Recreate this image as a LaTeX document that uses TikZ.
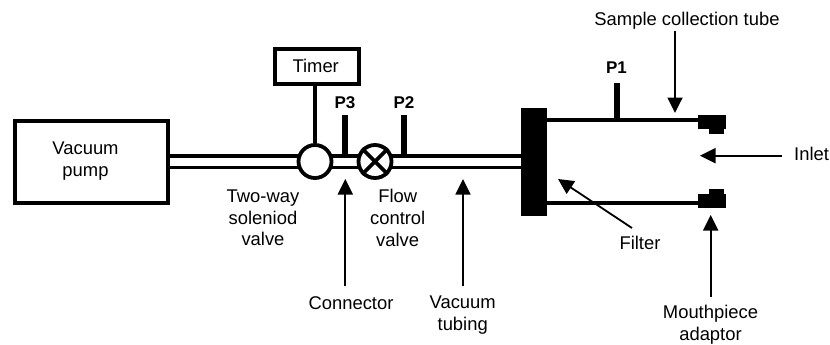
\documentclass[tikz,border=0pt]{standalone}
\usepackage{fontspec}
\setmainfont{Liberation Sans}
\usetikzlibrary{arrows.meta,backgrounds}
\tikzset{
  label text/.style={align=center,font=\fontsize{18.4bp}{21.6bp}\selectfont,inner sep=0pt},
  port text/.style={anchor=base,font=\fontsize{17bp}{20bp}\selectfont\bfseries,inner sep=0pt},
  box/.style={draw,line width=4bp,fill=white,inner sep=0pt},
  valve/.style={circle,draw,line width=3.8bp,fill=white,minimum size=33bp,inner sep=0pt},
  tube/.style={draw,line width=15.8bp,black,postaction={draw,white,line width=8bp}},
  wall/.style={line width=4bp},
  stub/.style={line width=6bp},
  pointer/.style={-{Triangle[length=15.5bp,width=15bp]},line width=1.8bp},
  solid part/.style={fill=black,draw=none,inner sep=0pt},
}
\begin{document}
\begin{tikzpicture}[x=1bp,y=-1bp,line join=miter]
  \useasboundingbox (0,0) rectangle (830,344);
  % Node: pump and timer
  \node [box,minimum width=153bp,minimum height=82bp] (pump) at (91.5,161.5) {};
  \node [label text] (pumptext) at (85.5,161) {Vacuum\\pump};
  \node [box,minimum width=84bp,minimum height=34.7bp] (timer) at (316.7,66.7) {};
  \node [label text,anchor=base] (timertext) at (315.7,72.7) {Timer};
  % Node: valves
  \node [valve] (solenoid) at (315,161.5) {};
  \node [valve] (flow) at (375,161.5) {};
  % Node: filter
  \node [solid part,minimum width=26bp,minimum height=108bp] (filter) at (534,161.5) {};
  % Node: mouthpiece parts
  \node [solid part,minimum width=28bp,minimum height=14bp] (topbody) at (712,122) {};
  \node [solid part,minimum width=15bp,minimum height=5bp] (topnub) at (716.5,131) {};
  \node [solid part,minimum width=28bp,minimum height=14bp] (lowbody) at (712,200.5) {};
  \node [solid part,minimum width=15bp,minimum height=5bp] (lownub) at (716.5,191.5) {};
  % Node: pressure ports
  \coordinate (p3top) at (345,115);
  \coordinate (p3foot) at (345,156);
  \coordinate (p2top) at (404,115);
  \coordinate (p2foot) at (404,156);
  \coordinate (p1top) at (617,83);
  \coordinate (p1foot) at (617,120);
  \coordinate (wallone) at (547,120);
  \coordinate (walltwo) at (547,203);
  \coordinate (bodyone) at (698,120);
  \coordinate (bodytwo) at (698,203);
  \node [port text] (p3) at (345,108) {P3};
  \node [port text] (p2) at (404,108) {P2};
  \node [port text] (p1) at (616.5,73) {P1};
  % Node: labels
  \node [label text,anchor=base] (samplelabel) at (687,25) {Sample collection tube};
  \node [label text,anchor=base west] (inletlabel) at (794,160) {Inlet};
  \node [label text,anchor=base] (filterlabel) at (640,249) {Filter};
  \node [label text] (solenoidlabel) at (263,218) {Two-way\\soleniod\\valve};
  \node [label text] (flowlabel) at (397.7,218) {Flow\\control\\valve};
  \node [label text,anchor=base] (connectorlabel) at (351,309) {Connector};
  \node [label text] (tubinglabel) at (462.7,315) {Vacuum\\tubing};
  \node [label text] (adaptorlabel) at (710.5,325) {Mouthpiece\\adaptor};
  % Edge: arrow targets
  \coordinate (sampletip) at (675,113);
  \coordinate (inlettip) at (700,155.7);
  \coordinate (filtertip) at (558,179);
  \coordinate (connectortip) at (345.3,179);
  \coordinate (tubingtip) at (463,179);
  \coordinate (adaptortip) at (710.7,215);
  \coordinate (samplefoot) at (675,31);
  \coordinate (inletfoot) at (782,155.7);
  \coordinate (filterfoot) at (632,228);
  \coordinate (connectorfoot) at (345.3,286);
  \coordinate (tubingfoot) at (463,286);
  \coordinate (adaptorfoot) at (710.7,297);
  % Edge: pipes
  \begin{scope}[on background layer]
    \path [tube] (pump.center) -- (solenoid.center);
    \path [tube] (solenoid.center) -- (flow.center);
    \path [tube] (flow.center) -- (filter.center);
  \end{scope}
  % Edge: timer -> solenoid
  \draw [line width=4bp] (timer.south -| solenoid) -- (solenoid);
  % Edge: cross inside the flow valve
  \draw [line width=3.8bp] (flow.north west) -- (flow.south east);
  \draw [line width=3.8bp] (flow.north east) -- (flow.south west);
  % Edge: ports
  \draw [stub] (p3top) -- (p3foot);
  \draw [stub] (p2top) -- (p2foot);
  \draw [stub] (p1top) -- (p1foot);
  % Edge: collection tube walls
  \draw [wall] (wallone) -- (bodyone);
  \draw [wall] (walltwo) -- (bodytwo);
  % Edge: pointers
  \draw [pointer] (samplefoot) -- (sampletip);
  \draw [pointer] (inletfoot) -- (inlettip);
  \draw [pointer] (filterfoot) -- (filtertip);
  \draw [pointer] (connectorfoot) -- (connectortip);
  \draw [pointer] (tubingfoot) -- (tubingtip);
  \draw [pointer] (adaptorfoot) -- (adaptortip);
\end{tikzpicture}
\end{document}
